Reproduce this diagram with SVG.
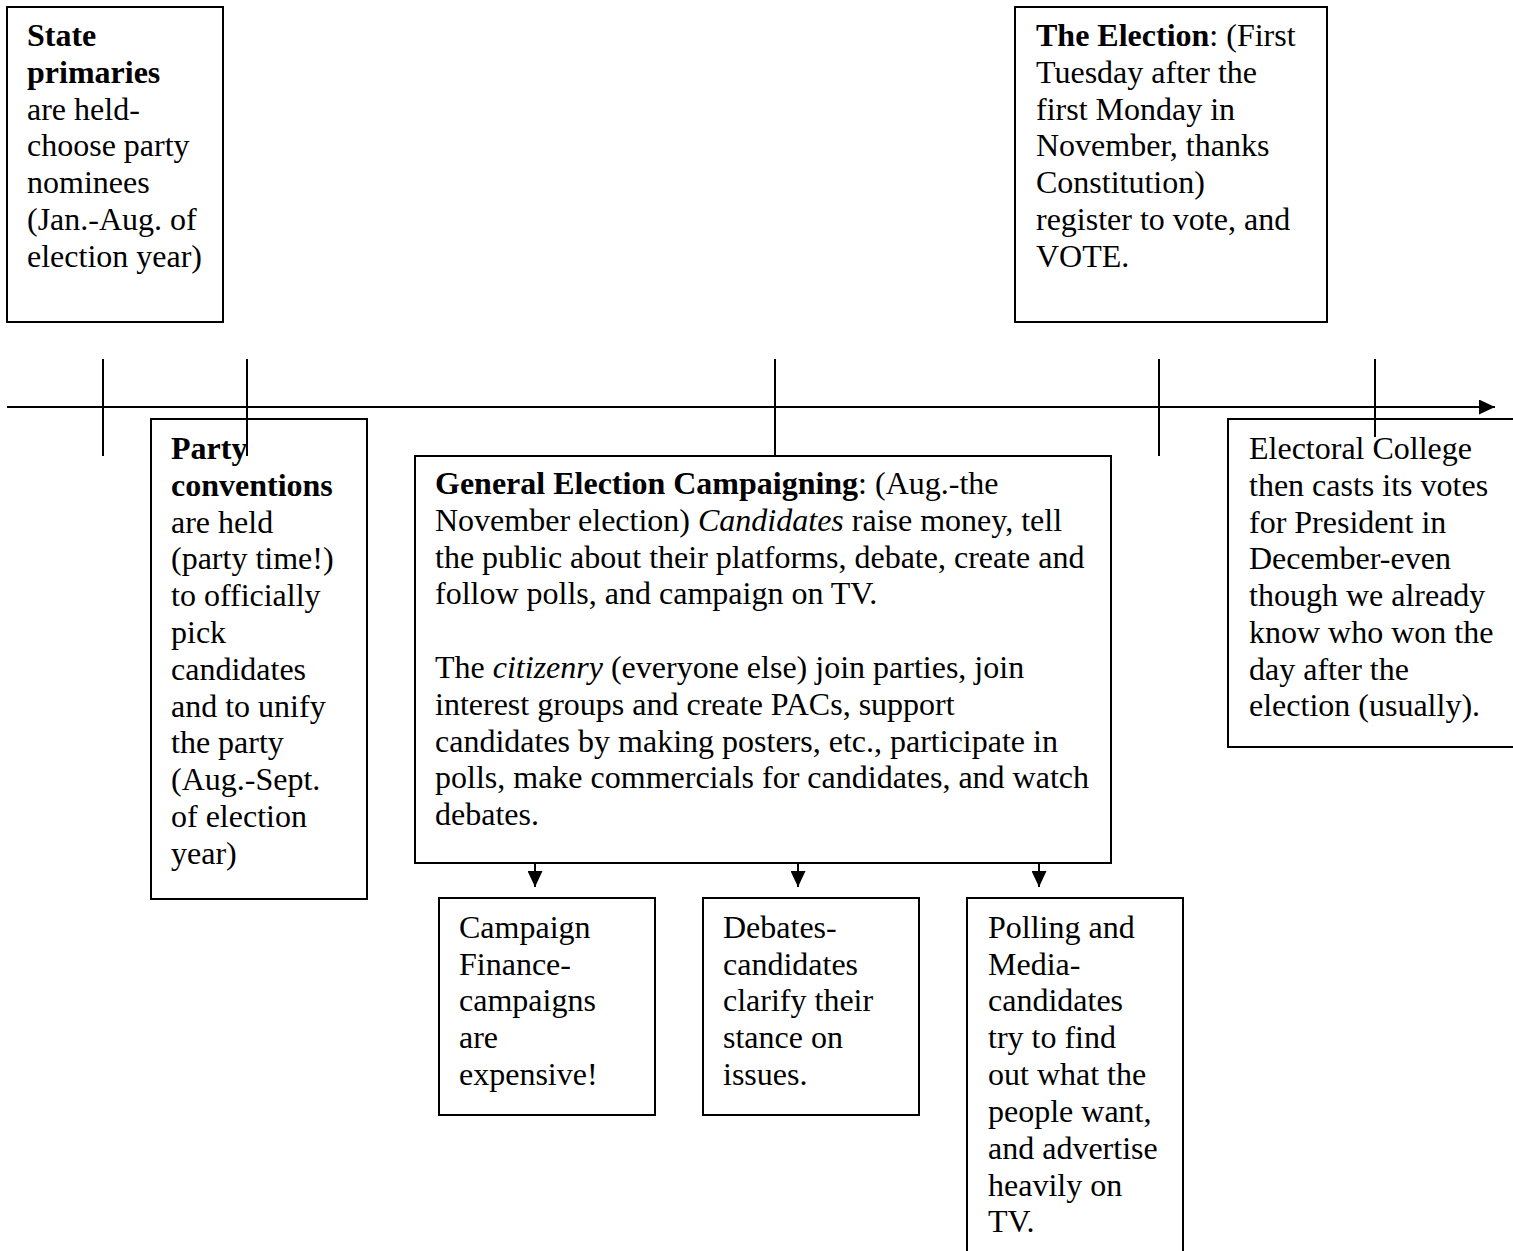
<svg xmlns="http://www.w3.org/2000/svg" width="1513" height="1251" viewBox="0 0 1513 1251">
<style>
.box{fill:#fff;stroke:#000;stroke-width:2}
.ln{stroke:#000;stroke-width:2;fill:none}
text{font-family:"Liberation Serif","Times New Roman",serif;font-size:32px;fill:#000}
.b{font-weight:bold}
.i{font-style:italic}
</style>
<defs>
<marker id="ah" markerUnits="userSpaceOnUse" viewBox="0 0 16 15" refX="16" refY="7.5" markerWidth="16" markerHeight="15" orient="auto">
<path d="M0,0 L16,7.5 L0,15 z" fill="#000"/>
</marker>
</defs>
<rect width="1513" height="1251" fill="#fff"/>

<g id="state-primaries">
<rect class="box" x="7" y="7" width="216" height="315"/>
<text x="27" y="46" class="b">State</text>
<text x="27" y="83" class="b">primaries</text>
<text x="27" y="120">are held-</text>
<text x="27" y="156">choose party</text>
<text x="27" y="193">nominees</text>
<text x="27" y="230">(Jan.-Aug. of</text>
<text x="27" y="267">election year)</text>
</g>

<g id="the-election">
<rect class="box" x="1015" y="7" width="312" height="315"/>
<text x="1036" y="46"><tspan class="b">The Election</tspan>: (First</text>
<text x="1036" y="83">Tuesday after the</text>
<text x="1036" y="120">first Monday in</text>
<text x="1036" y="156">November, thanks</text>
<text x="1036" y="193">Constitution)</text>
<text x="1036" y="230">register to vote, and</text>
<text x="1036" y="267">VOTE.</text>
</g>

<g id="party-conventions">
<rect class="box" x="151" y="419" width="216" height="480"/>
<text x="171" y="459" class="b">Party</text>
<text x="171" y="496" class="b">conventions</text>
<text x="171" y="533">are held</text>
<text x="171" y="569">(party time!)</text>
<text x="171" y="606">to officially</text>
<text x="171" y="643">pick</text>
<text x="171" y="680">candidates</text>
<text x="171" y="717">and to unify</text>
<text x="171" y="753">the party</text>
<text x="171" y="790">(Aug.-Sept.</text>
<text x="171" y="827">of election</text>
<text x="171" y="864">year)</text>
</g>

<g id="general-election">
<rect class="box" x="415" y="456" width="696" height="407"/>
<text x="435" y="494"><tspan class="b">General Election Campaigning</tspan>: (Aug.-the</text>
<text x="435" y="531">November election) <tspan class="i">Candidates</tspan> raise money, tell</text>
<text x="435" y="568">the public about their platforms, debate, create and</text>
<text x="435" y="604">follow polls, and campaign on TV.</text>
<text x="435" y="678">The <tspan class="i">citizenry</tspan> (everyone else) join parties, join</text>
<text x="435" y="715">interest groups and create PACs, support</text>
<text x="435" y="752">candidates by making posters, etc., participate in</text>
<text x="435" y="788">polls, make commercials for candidates, and watch</text>
<text x="435" y="825">debates.</text>
</g>

<g id="electoral-college">
<rect class="box" x="1228" y="419" width="300" height="328"/>
<text x="1249" y="459">Electoral College</text>
<text x="1249" y="496">then casts its votes</text>
<text x="1249" y="533">for President in</text>
<text x="1249" y="569">December-even</text>
<text x="1249" y="606">though we already</text>
<text x="1249" y="643">know who won the</text>
<text x="1249" y="680">day after the</text>
<text x="1249" y="716">election (usually).</text>
</g>

<g id="campaign-finance">
<rect class="box" x="439" y="898" width="216" height="217"/>
<text x="459" y="938">Campaign</text>
<text x="459" y="975">Finance-</text>
<text x="459" y="1011">campaigns</text>
<text x="459" y="1048">are</text>
<text x="459" y="1085">expensive!</text>
</g>

<g id="debates">
<rect class="box" x="703" y="898" width="216" height="217"/>
<text x="723" y="938">Debates-</text>
<text x="723" y="975">candidates</text>
<text x="723" y="1011">clarify their</text>
<text x="723" y="1048">stance on</text>
<text x="723" y="1085">issues.</text>
</g>

<g id="polling-media">
<rect class="box" x="967" y="898" width="216" height="370"/>
<text x="988" y="938">Polling and</text>
<text x="988" y="975">Media-</text>
<text x="988" y="1011">candidates</text>
<text x="988" y="1048">try to find</text>
<text x="988" y="1085">out what the</text>
<text x="988" y="1122">people want,</text>
<text x="988" y="1159">and advertise</text>
<text x="988" y="1196">heavily on</text>
<text x="988" y="1232">TV.</text>
</g>

<g id="connectors">
<line class="ln" x1="7" y1="407" x2="1495" y2="407" marker-end="url(#ah)"/>
<line class="ln" x1="103" y1="359" x2="103" y2="456"/>
<line class="ln" x1="247" y1="359" x2="247" y2="456"/>
<line class="ln" x1="775" y1="359" x2="775" y2="456"/>
<line class="ln" x1="1159" y1="359" x2="1159" y2="456"/>
<line class="ln" x1="1375" y1="359" x2="1375" y2="437"/>
<line class="ln" x1="535" y1="863" x2="535" y2="887" marker-end="url(#ah)"/>
<line class="ln" x1="798" y1="863" x2="798" y2="887" marker-end="url(#ah)"/>
<line class="ln" x1="1039" y1="863" x2="1039" y2="887" marker-end="url(#ah)"/>
</g>
</svg>
